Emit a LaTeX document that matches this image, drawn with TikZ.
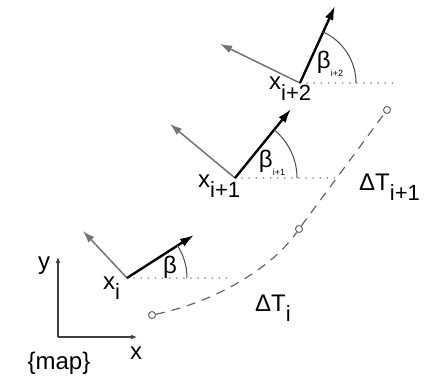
\documentclass[tikz,border=0pt]{standalone}
\usepackage{fontspec}
\setmainfont{Liberation Sans}
\usetikzlibrary{arrows.meta}
\begin{document}
\begin{tikzpicture}[x=1pt,y=-1pt,
  every node/.style={inner sep=0pt,font=\fontsize{24}{26}\selectfont},
  heading/.style={line width=2.4pt,-{Latex[length=14pt,width=9pt]}},
  perp/.style={line width=1.5pt,draw=black!55,-{Latex[length=12pt,width=8pt]}},
  ref/.style={line width=1.8pt,draw=black!40,line cap=round,dash pattern=on 0.1pt off 7pt},
  angarc/.style={line width=1pt,draw=black!70},
  traj/.style={line width=1.2pt,draw=black!60,dash pattern=on 9pt off 7pt},
  wp/.style={circle,draw=black!60,line width=1pt,minimum size=7pt,inner sep=0pt},
  axis/.style={line width=1.4pt,draw=black!75,-{Latex[length=6pt,width=5pt]}}]
\useasboundingbox (0,0) rectangle (427,379);
% map frame
\coordinate (M) at (58,337);
\coordinate (MY) at (58,257);
\coordinate (MX) at (137,337);
\draw[axis] (M) -- (MY);
\draw[axis] (M) -- (MX);
\node (ly) at (44,266) {y};
\node (lx) at (136,353) {x};
\node (lmap) at (59,363) {\{map\}};
% poses
\coordinate (P1) at (127,278);
\coordinate (H1) at (194,235);
\coordinate (G1) at (83,231);
\coordinate (D1) at (228,278);
\coordinate (P2) at (235,178);
\coordinate (H2) at (291,109);
\coordinate (G2) at (170,124);
\coordinate (D2) at (335,178);
\coordinate (P3) at (300,83);
\coordinate (H3) at (335,6);
\coordinate (G3) at (220,44);
\coordinate (D3) at (398,83);
\draw[ref] (P1) -- (D1);
\draw[ref] (P2) -- (D2);
\draw[ref] (P3) -- (D3);
\draw[perp] (P1) -- (G1);
\draw[perp] (P2) -- (G2);
\draw[perp] (P3) -- (G3);
\draw[heading] (P1) -- (H1);
\draw[heading] (P2) -- (H2);
\draw[heading] (P3) -- (H3);
\draw[angarc] ([shift={(60,0)}]P1) arc[start angle=0,end angle=-33,radius=60];
\draw[angarc] ([shift={(62,0)}]P2) arc[start angle=0,end angle=-51,radius=62];
\draw[angarc] ([shift={(56,0)}]P3) arc[start angle=0,end angle=-66,radius=56];
\node (b1) at (170,267) {β};
\node (b2) at (272,163) {β\raisebox{-0.35em}{\fontsize{9}{9}\selectfont i+1}};
\node (b3) at (330,64) {β\raisebox{-0.35em}{\fontsize{9}{9}\selectfont i+2}};
\node[anchor=base west] (x1) at (103,289) {x\raisebox{-0.45em}{\fontsize{22}{22}\selectfont i}};
\node[anchor=base west] (x2) at (198,187) {x\raisebox{-0.45em}{\fontsize{22}{22}\selectfont i+1}};
\node[anchor=base west] (x3) at (269,90) {x\raisebox{-0.45em}{\fontsize{22}{22}\selectfont i+2}};
% trajectory
\node[wp] (c1) at (152,315) {};
\node[wp] (c2) at (299,229) {};
\node[wp] (c3) at (387,110) {};
\draw[traj] (c1) .. controls (215,302) and (272,268) .. (c2);
\draw[traj] (c2) -- (c3);
\node[anchor=base west] (dt1) at (255,311) {ΔT\raisebox{-0.45em}{\fontsize{22}{22}\selectfont i}};
\node[anchor=base west] (dt2) at (359,190) {ΔT\raisebox{-0.45em}{\fontsize{22}{22}\selectfont i+1}};
\end{tikzpicture}
\end{document}
